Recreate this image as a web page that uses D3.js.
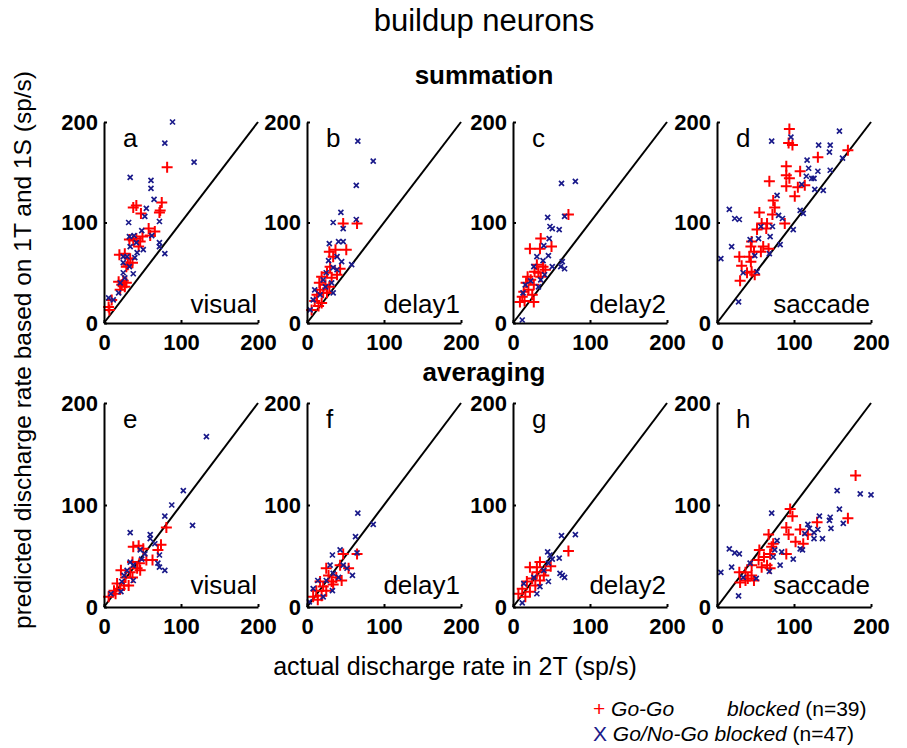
<!DOCTYPE html>
<html>
<head>
<meta charset="utf-8">
<script src="https://d3js.org/d3.v7.min.js"></script>
<style>
body { margin: 0; background: #fff; }
text { font-family: Arial, "Liberation Sans", sans-serif; }
.axis path, .axis line { stroke: #000; stroke-width: 2; }
.axis text { font-size: 22px; font-weight: bold; fill: #000; }
</style>
</head>
<body>
<script>
// [actual rate in 2T, predicted rate] pairs
// summation
var sumVisualGo = [[82,155],[75,120],[72,110],[73,112],[38,115],[42,117],[48,109],[58,94],[66,91],[60,87],[50,86],[33,83],[42,84],[45,76],[20,68],[27,69],[34,64],[37,60],[31,58],[29,56],[19,41],[25,42],[29,40],[21,33],[27,36],[10,23],[6,16],[7,13],[38,82],[47,81],[23,38]];
var sumVisualNoGo = [[89,200],[79,179],[117,160],[34,145],[61,142],[61,134],[65,123],[55,114],[53,106],[32,100],[72,101],[49,92],[39,87],[62,87],[72,80],[72,76],[79,69],[51,73],[42,80],[34,76],[30,66],[40,65],[25,60],[33,56],[25,50],[38,49],[27,45],[21,40],[19,30],[6,25],[12,23],[25,66],[33,86],[43,70]];
var sumDelay1Go = [[47,99],[65,99],[29,71],[37,73],[51,73],[34,66],[43,54],[30,56],[26,50],[19,46],[32,45],[16,40],[24,38],[17,33],[29,36],[21,30],[13,28],[10,22],[19,20],[6,13],[39,48],[26,30],[15,17]];
var sumDelay1NoGo = [[66,181],[86,161],[64,137],[44,110],[34,100],[64,103],[47,94],[41,81],[47,81],[29,79],[39,66],[45,61],[58,58],[28,62],[34,55],[25,50],[21,43],[32,40],[10,33],[17,28],[8,23],[34,30],[24,36],[4,13],[39,53]];
var sumDelay2Go = [[72,108],[36,84],[22,74],[35,74],[50,76],[31,58],[39,56],[28,51],[36,46],[23,43],[17,40],[27,38],[20,33],[14,31],[25,28],[9,21],[15,22],[27,21],[42,53],[12,26],[33,50],[19,46]];
var sumDelay2NoGo = [[63,139],[81,141],[45,105],[67,106],[48,96],[51,94],[60,93],[47,84],[40,77],[31,66],[46,67],[39,62],[51,56],[64,61],[62,56],[67,54],[27,56],[41,48],[36,43],[16,38],[23,42],[13,30],[12,3],[33,36]];
var sumSaccadeGo = [[94,193],[93,179],[98,177],[170,172],[131,165],[90,156],[90,147],[108,151],[94,144],[68,141],[90,136],[105,135],[114,137],[101,126],[73,122],[75,115],[72,108],[88,99],[55,110],[58,99],[65,99],[52,93],[64,94],[45,81],[44,76],[60,76],[48,71],[57,71],[67,74],[29,66],[42,66],[32,57],[44,61],[39,50],[45,51],[30,42],[49,48]];
var sumSaccadeNoGo = [[159,191],[96,185],[71,181],[132,177],[147,177],[146,170],[163,164],[117,162],[119,154],[131,151],[147,152],[116,146],[123,144],[126,144],[110,138],[138,132],[127,133],[78,127],[16,113],[23,104],[29,103],[80,107],[85,104],[108,112],[112,109],[72,96],[99,93],[54,84],[69,86],[19,76],[82,78],[5,64],[43,83],[49,67],[68,69],[34,50],[52,51],[28,21],[57,96]];
// averaging
var avgVisualGo = [[81,78],[38,59],[45,60],[51,57],[74,61],[70,56],[55,46],[63,46],[37,44],[46,43],[43,38],[22,36],[34,34],[47,36],[28,29],[17,23],[26,21],[32,21],[13,16],[21,18],[6,10],[15,13],[37,29]];
var avgVisualNoGo = [[133,167],[103,114],[88,100],[79,89],[115,80],[34,73],[60,71],[60,67],[66,62],[72,51],[70,43],[72,39],[79,36],[49,47],[34,44],[38,41],[26,31],[38,26],[23,25],[22,15],[9,13],[53,52],[30,36],[47,56]];
var avgDelay1Go = [[47,52],[65,52],[25,38],[43,41],[54,38],[38,29],[45,26],[17,25],[32,25],[21,20],[12,16],[25,16],[8,10],[19,11],[34,22],[28,31],[14,7]];
var avgDelay1NoGo = [[66,92],[86,81],[63,69],[65,53],[43,56],[33,51],[47,41],[59,31],[30,41],[41,29],[33,16],[8,18],[21,10],[14,26],[34,33],[25,26],[52,38],[3,5]];
var avgDelay2Go = [[72,55],[35,44],[22,39],[49,40],[31,34],[40,31],[25,28],[35,26],[18,25],[29,21],[12,18],[22,15],[7,13],[16,10],[42,36],[31,39]];
var avgDelay2NoGo = [[63,70],[81,71],[45,54],[48,51],[51,47],[60,48],[46,43],[61,33],[67,29],[64,31],[40,36],[46,25],[35,20],[14,23],[12,4],[27,29],[31,13]];
var avgSaccadeGo = [[180,129],[170,87],[95,96],[98,89],[90,78],[93,71],[108,76],[118,71],[102,64],[130,83],[67,71],[73,62],[71,59],[90,52],[55,56],[61,49],[69,52],[54,46],[65,41],[45,41],[69,38],[58,39],[29,34],[37,34],[45,31],[30,24],[40,28],[48,26],[37,26],[112,62]];
var avgSaccadeNoGo = [[156,114],[186,111],[200,110],[159,96],[133,89],[147,88],[146,85],[164,82],[118,81],[148,77],[120,77],[126,73],[131,76],[114,72],[126,67],[137,67],[71,92],[78,65],[108,57],[111,56],[75,56],[84,54],[99,47],[16,57],[23,53],[29,52],[82,41],[19,39],[43,43],[68,35],[5,34],[34,29],[51,28],[28,11],[73,49]];

var panelLetters = ["a","b","c","d","e","f","g","h"];
var epochs = ["visual","delay1","delay2","saccade"];
var goSets = [sumVisualGo, sumDelay1Go, sumDelay2Go, sumSaccadeGo, avgVisualGo, avgDelay1Go, avgDelay2Go, avgSaccadeGo];
var noGoSets = [sumVisualNoGo, sumDelay1NoGo, sumDelay2NoGo, sumSaccadeNoGo, avgVisualNoGo, avgDelay1NoGo, avgDelay2NoGo, avgSaccadeNoGo];
var tickVals = [0, 100, 200];

var w = 907, h = 748;
var svg = d3.select("body").append("svg")
  .attr("width", w)
  .attr("height", h);

var colLeft = [104, 307, 513, 717];
var pw = 154;
var rowTop = [122, 403];
var ph = [201, 204];
var epochOff = [10, 13];

var plusPath = "M-5.5,0H5.5M0,-5.5V5.5";
var crossPath = "M-2.5,-2.5L2.5,2.5M-2.5,2.5L2.5,-2.5";

for (var i = 0; i < 8; i++) {
  var r = Math.floor(i / 4), c = i % 4;
  var x = d3.scaleLinear().domain([0, 200]).range([colLeft[c], colLeft[c] + pw]);
  var y = d3.scaleLinear().domain([0, 200]).range([rowTop[r] + ph[r], rowTop[r]]);

  var g = svg.append("g");

  // unity line
  g.append("line")
    .attr("x1", x(0)).attr("y1", y(0))
    .attr("x2", x(200)).attr("y2", y(200))
    .attr("stroke", "#000").attr("stroke-width", 2);

  g.selectAll(".go")
    .data(goSets[i])
    .enter()
    .append("path")
    .attr("d", plusPath)
    .attr("transform", function(d) { return "translate(" + x(d[0]) + "," + y(d[1]) + ")"; })
    .attr("stroke", "#ff0000")
    .attr("stroke-width", 2)
    .attr("fill", "none");

  g.selectAll(".nogo")
    .data(noGoSets[i])
    .enter()
    .append("path")
    .attr("d", crossPath)
    .attr("transform", function(d) { return "translate(" + x(d[0]) + "," + y(d[1]) + ")"; })
    .attr("stroke", "#1a1a8a")
    .attr("stroke-width", 1.7)
    .attr("fill", "none");

  // axes
  g.append("g")
    .attr("class", "axis")
    .attr("transform", "translate(0," + y(0) + ")")
    .call(d3.axisBottom(x).tickValues(tickVals).tickSize(-3).tickSizeOuter(0).tickPadding(11));
  g.append("g")
    .attr("class", "axis")
    .attr("transform", "translate(" + x(0) + ",0)")
    .call(d3.axisLeft(y).tickValues(tickVals).tickSize(-3).tickSizeOuter(0).tickPadding(6));

  g.append("text")
    .attr("x", x(0) + 19)
    .attr("y", y(200) + 25)
    .style("font-size", "26px")
    .text(panelLetters[i]);

  g.append("text")
    .attr("x", x(200) - 1)
    .attr("y", y(0) - epochOff[r])
    .attr("text-anchor", "end")
    .style("font-size", "26px")
    .text(epochs[c]);
}

// titles
svg.append("text").attr("x", 484).attr("y", 31).attr("text-anchor", "middle")
  .style("font-size", "31px").text("buildup neurons");
svg.append("text").attr("x", 484).attr("y", 84).attr("text-anchor", "middle")
  .style("font-size", "26px").style("font-weight", "bold").text("summation");
svg.append("text").attr("x", 484).attr("y", 381).attr("text-anchor", "middle")
  .style("font-size", "26px").style("font-weight", "bold").text("averaging");

svg.append("text").attr("x", 455).attr("y", 675).attr("text-anchor", "middle")
  .style("font-size", "25px").text("actual discharge rate in 2T (sp/s)");
svg.append("text")
  .attr("transform", "translate(31,350) rotate(-90)")
  .attr("text-anchor", "middle")
  .style("font-size", "24.5px")
  .text("predicted discharge rate based on 1T and 1S (sp/s)");

// legend
var leg1 = svg.append("text").attr("x", 593).attr("y", 716).style("font-size", "21px");
leg1.append("tspan").attr("fill", "#ff0000").text("+ ");
leg1.append("tspan").style("font-style", "italic").text("Go-Go");
leg1.append("tspan").attr("x", 727).style("font-style", "italic").text("blocked");
leg1.append("tspan").text(" (n=39)");

var leg2 = svg.append("text").attr("x", 593).attr("y", 741).style("font-size", "21px");
leg2.append("tspan").attr("fill", "#1a1a8a").text("X ");
leg2.append("tspan").style("font-style", "italic").text("Go/No-Go blocked");
leg2.append("tspan").text(" (n=47)");
</script>
</body>
</html>
